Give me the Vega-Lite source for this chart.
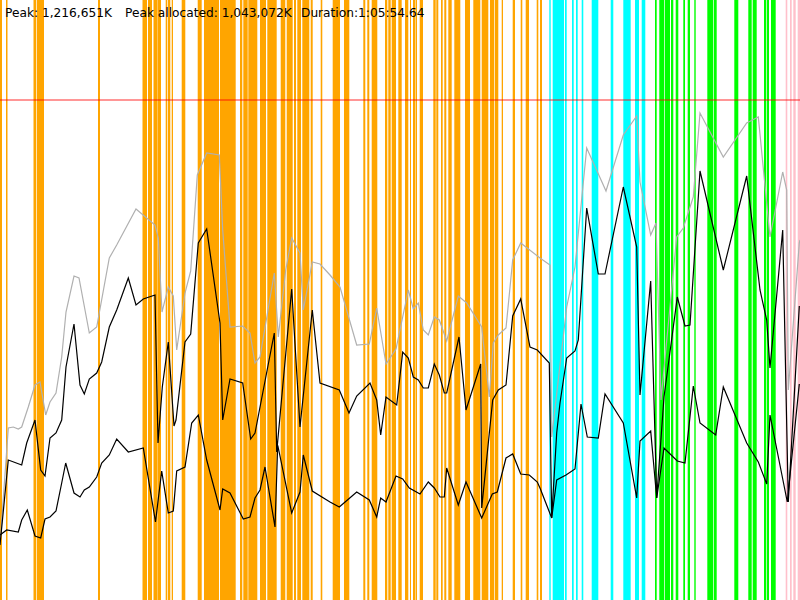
{
"$schema": "https://vega.github.io/schema/vega-lite/v6.json",
"width": 800, "height": 600,
"autosize": {"type": "none"},
"padding": 0,
"config": {"view": {"stroke": null}},
"datasets": {
"bars": [
{"s":0,"e":2,"p":"A"},{"s":6,"e":7.5,"p":"A"},{"s":33.5,"e":36,"p":"A"},{"s":36.7,"e":44,"p":"A"},{"s":98,"e":100,"p":"A"},
{"s":142.5,"e":147,"p":"A"},{"s":148,"e":152,"p":"A"},{"s":153.5,"e":157.5,"p":"A"},{"s":157.7,"e":161,"p":"A"},{"s":165.7,"e":167.3,"p":"A"},{"s":168,"e":170.3,"p":"A"},{"s":171.7,"e":173,"p":"A"},{"s":181.7,"e":185.3,"p":"A"},{"s":197.7,"e":201.7,"p":"A"},{"s":204,"e":219,"p":"A"},{"s":220,"e":235.7,"p":"A"},{"s":240,"e":242.3,"p":"A"},{"s":243.3,"e":247.7,"p":"A"},{"s":248.3,"e":257.3,"p":"A"},{"s":260,"e":266,"p":"A"},{"s":267.3,"e":276.7,"p":"A"},{"s":280.7,"e":285.3,"p":"A"},{"s":286.7,"e":292.7,"p":"A"},{"s":294,"e":296,"p":"A"},{"s":297.3,"e":301,"p":"A"},{"s":302.3,"e":309.3,"p":"A"},{"s":310.7,"e":312.7,"p":"A"},{"s":320.7,"e":322.3,"p":"A"},{"s":332.7,"e":340,"p":"A"},{"s":344,"e":349.3,"p":"A"},{"s":363.3,"e":365.3,"p":"A"},{"s":367.3,"e":369.3,"p":"A"},{"s":371.7,"e":377.3,"p":"A"},{"s":385,"e":387.3,"p":"A"},{"s":388.3,"e":390.7,"p":"A"},{"s":391.7,"e":396,"p":"A"},{"s":398.3,"e":401.7,"p":"A"},{"s":405,"e":408.3,"p":"A"},{"s":410,"e":411,"p":"A"},{"s":413,"e":415,"p":"A"},{"s":415.5,"e":417,"p":"A"},{"s":419.7,"e":423,"p":"A"},{"s":433.3,"e":435.7,"p":"A"},{"s":436.3,"e":438.3,"p":"A"},{"s":441,"e":442.7,"p":"A"},{"s":444.3,"e":446.3,"p":"A"},{"s":448.3,"e":451.7,"p":"A"},{"s":454.3,"e":460.3,"p":"A"},{"s":465,"e":470,"p":"A"},{"s":473.3,"e":480.3,"p":"A"},{"s":481.7,"e":488.3,"p":"A"},{"s":490,"e":494.3,"p":"A"},{"s":495,"e":498.3,"p":"A"},{"s":501.7,"e":503,"p":"A"},{"s":512.7,"e":515,"p":"A"},{"s":520.7,"e":522.3,"p":"A"},{"s":525.7,"e":529,"p":"A"},{"s":536.7,"e":538.3,"p":"A"},{"s":540,"e":542,"p":"A"},
{"s":549.3,"e":550.7,"p":"B"},{"s":552.7,"e":564,"p":"B"},{"s":565,"e":566.7,"p":"B"},{"s":572,"e":573.7,"p":"B"},{"s":576,"e":577.7,"p":"B"},{"s":581.7,"e":583.3,"p":"B"},{"s":591.7,"e":598.3,"p":"B"},{"s":610.7,"e":613.3,"p":"B"},{"s":623.3,"e":630.7,"p":"B"},{"s":635,"e":639,"p":"B"},{"s":641.7,"e":645.3,"p":"B"},
{"s":655,"e":656.7,"p":"C"},{"s":659.3,"e":664,"p":"C"},{"s":664.7,"e":670,"p":"C"},{"s":671,"e":673.3,"p":"C"},{"s":675.7,"e":678.3,"p":"C"},{"s":683.3,"e":685,"p":"C"},{"s":687.7,"e":690,"p":"C"},{"s":694.3,"e":695.7,"p":"C"},{"s":707.3,"e":713.3,"p":"C"},{"s":714,"e":716.7,"p":"C"},{"s":734.3,"e":738.3,"p":"C"},{"s":748.3,"e":751.7,"p":"C"},{"s":752.7,"e":756.7,"p":"C"},{"s":764,"e":766,"p":"C"},{"s":766.7,"e":769,"p":"C"},{"s":771,"e":775.7,"p":"C"},
{"s":785.7,"e":787.3,"p":"D"},{"s":790,"e":791.7,"p":"D"},{"s":793.3,"e":795.7,"p":"D"},{"s":797.7,"e":800,"p":"D"}
],
"peak": [{"label":"Peak","mem":500}],
"note": [
{"t":5,"mem":583,"text":"Peak: 1,216,651K"},
{"t":125,"mem":583,"text":"Peak allocated: 1,043,072K"},
{"t":301,"mem":583,"text":"Duration:1:05:54.64"}
],
"series": [
{"k":"total","t":0,"m":55},{"k":"total","t":8.3,"m":172},{"k":"total","t":13.3,"m":173},{"k":"total","t":18.3,"m":171},{"k":"total","t":21.7,"m":173},{"k":"total","t":28.3,"m":193},{"k":"total","t":35,"m":215},{"k":"total","t":40,"m":218},{"k":"total","t":45.7,"m":185},{"k":"total","t":50,"m":198},{"k":"total","t":56,"m":207},{"k":"total","t":61.7,"m":243},{"k":"total","t":66,"m":288},{"k":"total","t":74,"m":324},{"k":"total","t":79,"m":322},{"k":"total","t":89.3,"m":267},{"k":"total","t":96.7,"m":273},{"k":"total","t":109.3,"m":342},{"k":"total","t":116.7,"m":355},{"k":"total","t":136,"m":391},{"k":"total","t":155,"m":375},{"k":"total","t":158.3,"m":362},{"k":"total","t":162,"m":288},{"k":"total","t":168.3,"m":313},{"k":"total","t":173.3,"m":304},{"k":"total","t":176.7,"m":250},{"k":"total","t":185,"m":307},{"k":"total","t":190.7,"m":329},{"k":"total","t":197.3,"m":425},{"k":"total","t":206.7,"m":447},{"k":"total","t":219.3,"m":445},{"k":"total","t":222.7,"m":370},{"k":"total","t":230,"m":273},{"k":"total","t":242.7,"m":274},{"k":"total","t":250,"m":267},{"k":"total","t":255,"m":237},{"k":"total","t":260,"m":243},{"k":"total","t":274.3,"m":327},{"k":"total","t":278.3,"m":263},{"k":"total","t":285.7,"m":330},{"k":"total","t":291.7,"m":362},{"k":"total","t":300,"m":347},{"k":"total","t":303.3,"m":290},{"k":"total","t":312.3,"m":338},{"k":"total","t":320,"m":336},{"k":"total","t":330,"m":325},{"k":"total","t":340,"m":313},{"k":"total","t":356.7,"m":255},{"k":"total","t":369.3,"m":256},{"k":"total","t":376.7,"m":292},{"k":"total","t":386,"m":236},{"k":"total","t":396,"m":251},{"k":"total","t":408.3,"m":310},{"k":"total","t":413.3,"m":291},{"k":"total","t":418.3,"m":297},{"k":"total","t":423.3,"m":270},{"k":"total","t":428.3,"m":265},{"k":"total","t":434.3,"m":283},{"k":"total","t":439.3,"m":280},{"k":"total","t":446.7,"m":259},{"k":"total","t":458.3,"m":304},{"k":"total","t":466.7,"m":297},{"k":"total","t":481.7,"m":273},{"k":"total","t":489.3,"m":203},{"k":"total","t":493.3,"m":257},{"k":"total","t":498.3,"m":265},{"k":"total","t":506,"m":272},{"k":"total","t":512.7,"m":340},{"k":"total","t":520.7,"m":357},{"k":"total","t":540,"m":342},{"k":"total","t":550,"m":335},{"k":"total","t":551.7,"m":163},{"k":"total","t":566.7,"m":293},{"k":"total","t":575,"m":333},{"k":"total","t":586.7,"m":452},{"k":"total","t":606,"m":409},{"k":"total","t":623.3,"m":465},{"k":"total","t":636.7,"m":484},{"k":"total","t":640,"m":418},{"k":"total","t":650.7,"m":365},{"k":"total","t":656,"m":377},{"k":"total","t":661,"m":200},{"k":"total","t":676.7,"m":363},{"k":"total","t":683.3,"m":372},{"k":"total","t":693.3,"m":403},{"k":"total","t":700,"m":487},{"k":"total","t":723.3,"m":443},{"k":"total","t":746.7,"m":477},{"k":"total","t":758.3,"m":483},{"k":"total","t":770,"m":363},{"k":"total","t":782.7,"m":428},{"k":"total","t":786.7,"m":410},{"k":"total","t":788.3,"m":210},{"k":"total","t":799.3,"m":357},{"k":"total","t":800,"m":360},
{"k":"used","t":0,"m":55},{"k":"used","t":8.3,"m":140},{"k":"used","t":21.7,"m":135},{"k":"used","t":26.7,"m":157},{"k":"used","t":35,"m":180},{"k":"used","t":40.7,"m":130},{"k":"used","t":45,"m":124},{"k":"used","t":50,"m":162},{"k":"used","t":56,"m":167},{"k":"used","t":61.7,"m":180},{"k":"used","t":66,"m":233},{"k":"used","t":74,"m":276},{"k":"used","t":80,"m":215},{"k":"used","t":84.3,"m":206},{"k":"used","t":89.3,"m":221},{"k":"used","t":96.7,"m":227},{"k":"used","t":101.7,"m":238},{"k":"used","t":109.3,"m":273},{"k":"used","t":116.7,"m":290},{"k":"used","t":128.3,"m":322},{"k":"used","t":136,"m":295},{"k":"used","t":143.3,"m":301},{"k":"used","t":155,"m":305},{"k":"used","t":158,"m":157},{"k":"used","t":162.3,"m":213},{"k":"used","t":168.3,"m":258},{"k":"used","t":174,"m":174},{"k":"used","t":176,"m":180},{"k":"used","t":185,"m":258},{"k":"used","t":190.7,"m":266},{"k":"used","t":198.3,"m":357},{"k":"used","t":206.7,"m":371},{"k":"used","t":220,"m":277},{"k":"used","t":222.7,"m":180},{"k":"used","t":230,"m":221},{"k":"used","t":242.7,"m":217},{"k":"used","t":250.7,"m":161},{"k":"used","t":255,"m":167},{"k":"used","t":274.3,"m":267},{"k":"used","t":276.7,"m":148},{"k":"used","t":291.7,"m":311},{"k":"used","t":300,"m":173},{"k":"used","t":312.3,"m":290},{"k":"used","t":320,"m":217},{"k":"used","t":339.3,"m":210},{"k":"used","t":349,"m":187},{"k":"used","t":356.7,"m":204},{"k":"used","t":370,"m":217},{"k":"used","t":376.7,"m":200},{"k":"used","t":380.7,"m":165},{"k":"used","t":386,"m":203},{"k":"used","t":396.7,"m":195},{"k":"used","t":402.7,"m":248},{"k":"used","t":408.3,"m":242},{"k":"used","t":413.3,"m":223},{"k":"used","t":418.3,"m":220},{"k":"used","t":423.3,"m":212},{"k":"used","t":428.3,"m":212},{"k":"used","t":434.3,"m":236},{"k":"used","t":439.3,"m":225},{"k":"used","t":444.3,"m":207},{"k":"used","t":446.7,"m":207},{"k":"used","t":459,"m":263},{"k":"used","t":466,"m":190},{"k":"used","t":480.7,"m":236},{"k":"used","t":481.7,"m":92},{"k":"used","t":492.7,"m":200},{"k":"used","t":498.3,"m":210},{"k":"used","t":506,"m":215},{"k":"used","t":512.7,"m":284},{"k":"used","t":520.7,"m":301},{"k":"used","t":530,"m":253},{"k":"used","t":537.3,"m":250},{"k":"used","t":549.3,"m":237},{"k":"used","t":551.7,"m":82},{"k":"used","t":556.7,"m":167},{"k":"used","t":560,"m":197},{"k":"used","t":566.7,"m":242},{"k":"used","t":575,"m":249},{"k":"used","t":578.3,"m":260},{"k":"used","t":586.7,"m":392},{"k":"used","t":598.3,"m":326},{"k":"used","t":605,"m":326},{"k":"used","t":623.3,"m":413},{"k":"used","t":636.7,"m":353},{"k":"used","t":640,"m":205},{"k":"used","t":650.7,"m":319},{"k":"used","t":656.7,"m":102},{"k":"used","t":664,"m":203},{"k":"used","t":677.3,"m":303},{"k":"used","t":685,"m":274},{"k":"used","t":690,"m":275},{"k":"used","t":700,"m":429},{"k":"used","t":723.3,"m":330},{"k":"used","t":746.7,"m":424},{"k":"used","t":760,"m":310},{"k":"used","t":766.7,"m":280},{"k":"used","t":770,"m":232},{"k":"used","t":782.7,"m":370},{"k":"used","t":788.3,"m":98},{"k":"used","t":799.3,"m":294},
{"k":"live","t":0,"m":65},{"k":"live","t":6.7,"m":70},{"k":"live","t":18.3,"m":68},{"k":"live","t":21.7,"m":80},{"k":"live","t":27.3,"m":90},{"k":"live","t":35,"m":64},{"k":"live","t":40.7,"m":62},{"k":"live","t":45,"m":81},{"k":"live","t":50,"m":83},{"k":"live","t":56,"m":89},{"k":"live","t":61.7,"m":117},{"k":"live","t":65.7,"m":137},{"k":"live","t":74,"m":107},{"k":"live","t":80,"m":103},{"k":"live","t":84.3,"m":110},{"k":"live","t":89.3,"m":113},{"k":"live","t":96.7,"m":123},{"k":"live","t":101.7,"m":137},{"k":"live","t":109.3,"m":145},{"k":"live","t":116.7,"m":161},{"k":"live","t":128.3,"m":148},{"k":"live","t":143.3,"m":152},{"k":"live","t":155.5,"m":78},{"k":"live","t":161.7,"m":129},{"k":"live","t":168.3,"m":87},{"k":"live","t":173.3,"m":89},{"k":"live","t":176.7,"m":129},{"k":"live","t":185,"m":133},{"k":"live","t":191.7,"m":177},{"k":"live","t":198.3,"m":185},{"k":"live","t":206.7,"m":140},{"k":"live","t":220,"m":90},{"k":"live","t":222.7,"m":111},{"k":"live","t":230,"m":107},{"k":"live","t":243.3,"m":81},{"k":"live","t":250,"m":83},{"k":"live","t":255,"m":102},{"k":"live","t":260,"m":110},{"k":"live","t":265,"m":133},{"k":"live","t":275,"m":73},{"k":"live","t":277.7,"m":155},{"k":"live","t":291.7,"m":87},{"k":"live","t":300,"m":108},{"k":"live","t":303.3,"m":145},{"k":"live","t":312.3,"m":109},{"k":"live","t":330,"m":98},{"k":"live","t":339.3,"m":93},{"k":"live","t":356.7,"m":108},{"k":"live","t":369.3,"m":100},{"k":"live","t":376.7,"m":83},{"k":"live","t":380.7,"m":102},{"k":"live","t":386,"m":98},{"k":"live","t":396,"m":124},{"k":"live","t":402.7,"m":121},{"k":"live","t":409.3,"m":112},{"k":"live","t":420,"m":106},{"k":"live","t":428.3,"m":118},{"k":"live","t":434.3,"m":112},{"k":"live","t":440,"m":103},{"k":"live","t":444.3,"m":103},{"k":"live","t":446.7,"m":132},{"k":"live","t":458.3,"m":95},{"k":"live","t":466,"m":118},{"k":"live","t":481.7,"m":82},{"k":"live","t":492.3,"m":106},{"k":"live","t":497.3,"m":108},{"k":"live","t":506,"m":142},{"k":"live","t":512.7,"m":146},{"k":"live","t":520.7,"m":126},{"k":"live","t":529.3,"m":125},{"k":"live","t":537.3,"m":118},{"k":"live","t":540,"m":112},{"k":"live","t":551.7,"m":82},{"k":"live","t":556.7,"m":120},{"k":"live","t":566,"m":125},{"k":"live","t":575,"m":131},{"k":"live","t":581,"m":196},{"k":"live","t":587.3,"m":163},{"k":"live","t":598.3,"m":162},{"k":"live","t":605,"m":206},{"k":"live","t":623.3,"m":177},{"k":"live","t":636.7,"m":102},{"k":"live","t":640,"m":159},{"k":"live","t":650.7,"m":169},{"k":"live","t":656.7,"m":102},{"k":"live","t":664,"m":152},{"k":"live","t":677.3,"m":139},{"k":"live","t":685,"m":137},{"k":"live","t":693.3,"m":214},{"k":"live","t":700,"m":177},{"k":"live","t":715.7,"m":165},{"k":"live","t":723.3,"m":213},{"k":"live","t":746.7,"m":157},{"k":"live","t":758.3,"m":138},{"k":"live","t":766.7,"m":116},{"k":"live","t":770,"m":185},{"k":"live","t":787.3,"m":98},{"k":"live","t":799.3,"m":216}
]
},
"resolve": {"scale": {"color": "independent"}},
"layer": [
{"data": {"name": "bars"}, "mark": {"type": "rect"},
 "encoding": {
  "x": {"field": "s", "type": "quantitative", "scale": {"domain": [0, 800], "nice": false, "zero": false}, "axis": null},
  "x2": {"field": "e"},
  "color": {"field": "p", "type": "nominal", "legend": null, "scale": {"domain": ["A","B","C","D"], "range": ["#ffa500","#00ffff","#00ff00","#ffc0cb"]}}
 }},
{"data": {"name": "peak"}, "mark": {"type": "rule", "color": "#ff0000", "opacity": 0.55, "strokeWidth": 1.5},
 "encoding": {
  "y": {"field": "mem", "type": "quantitative", "scale": {"domain": [0, 600], "nice": false, "zero": false}, "axis": null}
 }},
{"data": {"name": "series"}, "mark": {"type": "line", "strokeWidth": 1.2},
 "encoding": {
  "x": {"field": "t", "type": "quantitative", "scale": {"domain": [0, 800], "nice": false, "zero": false}, "axis": null},
  "y": {"field": "m", "type": "quantitative", "scale": {"domain": [0, 600], "nice": false, "zero": false}, "axis": null},
  "detail": {"field": "k"},
  "color": {"field": "k", "type": "nominal", "legend": null, "scale": {"domain": ["total","used","live"], "range": ["#b0b0b0","#000000","#000000"]}}
 }},
{"data": {"name": "note"}, "mark": {"type": "text", "align": "left", "baseline": "alphabetic", "font": "DejaVu Sans", "fontSize": 12.2, "color": "#000000"},
 "encoding": {
  "x": {"field": "t", "type": "quantitative", "scale": {"domain": [0, 800], "nice": false, "zero": false}, "axis": null},
  "y": {"field": "mem", "type": "quantitative", "scale": {"domain": [0, 600], "nice": false, "zero": false}, "axis": null},
  "text": {"field": "text"}
 }}
]
}
